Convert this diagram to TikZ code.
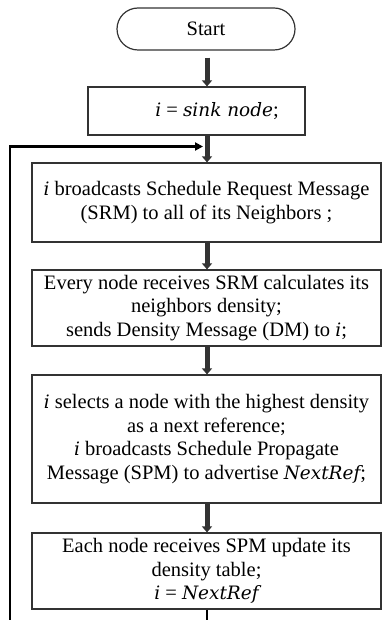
\documentclass[tikz,border=0pt]{standalone}
\usepackage{fontspec}
\setmainfont{Liberation Serif}
\newfontfamily\mvfont[Scale=0.9]{DejaVu Serif}
\newcommand{\mv}[1]{{\mvfont\itshape #1}}
\usetikzlibrary{arrows.meta}
\begin{document}
\begin{tikzpicture}[x=1pt,y=-1pt,
  every node/.style={font=\fontsize{20.5}{23.5}\selectfont, align=center, inner sep=0pt},
  procbox/.style={draw=black!80, line width=1.2pt, fill=white},
  flowarrow/.style={draw=black!80, line width=5pt,
    -{Triangle[width=10pt,length=6pt]}},
  loopline/.style={draw=black, line width=2.6pt, line join=miter}]
  \useasboundingbox (0,0) rectangle (382,620);

  % terminator and process steps
  \node[procbox, rounded corners=21pt, minimum width=178pt, minimum height=42pt]
    (start) at (206,29) {Start};
  \node[procbox, minimum width=217pt, minimum height=48pt]
    (init) at (196.5,111) {\hspace*{41pt}\mv{i} = \mv{sink node};};
  \node[procbox, minimum width=349pt, minimum height=79pt]
    (srm) at (206.5,202.5)
    {\mv{i} broadcasts Schedule Request Message\\(SRM) to all of its Neighbors ;};
  \node[procbox, minimum width=349pt, minimum height=76pt]
    (dm) at (206.5,308)
    {Every node receives SRM calculates its\\neighbors density;\\sends Density Message (DM) to \mv{i};};
  \node[procbox, minimum width=349pt, minimum height=128pt]
    (spm) at (206.5,439)
    {\mv{i} selects a node with the highest density\\as a next reference;\\\mv{i} broadcasts Schedule Propagate\\Message (SPM) to advertise \mv{NextRef};};
  \node[procbox, minimum width=349pt, minimum height=76pt]
    (upd) at (206.5,571)
    {Each node receives SPM update its\\density table;\\\mv{i} = \mv{NextRef}};

  % main flow along the centre line
  \coordinate (axis) at (207,0);
  \draw[flowarrow, shorten <=7pt] (start.south -| axis) -- (init.north -| axis);
  \draw[flowarrow] (init.south -| axis) -- (srm.north -| axis);
  \draw[flowarrow] (srm.south -| axis) -- (dm.north -| axis);
  \draw[flowarrow] (dm.south -| axis) -- (spm.north -| axis);
  \draw[flowarrow] (spm.south -| axis) -- (upd.north -| axis);

  % feedback loop back to the broadcast step
  \coordinate (lb) at (207,621);
  \coordinate (ll) at (10,621);
  \coordinate (lt) at (10,146.5);
  \coordinate (le) at (203,146.5);
  \draw[loopline, -{Triangle[width=8pt,length=8pt]}]
    (upd.south -| lb) -- (lb) -- (ll) -- (lt) -- (le);
\end{tikzpicture}
\end{document}
